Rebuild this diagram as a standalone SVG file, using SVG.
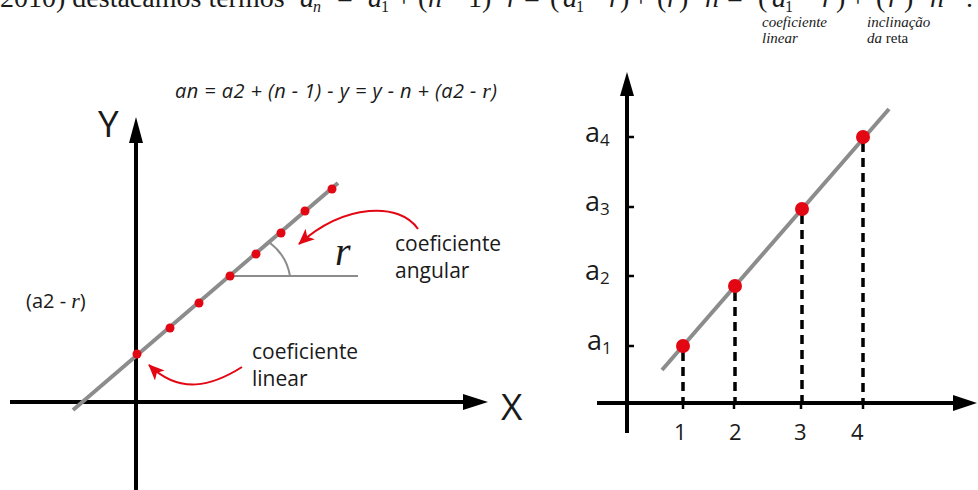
<svg xmlns="http://www.w3.org/2000/svg" width="978" height="490" viewBox="0 0 978 490">
<defs>
<style>
.sans{font-family:"Open Sans","Noto Sans",sans-serif;fill:#1a1a1a}
.serif{font-family:"Liberation Serif","DejaVu Serif",serif;fill:#1a1a1a}
.it{font-style:italic}
.axis{stroke:#000;stroke-width:4;fill:none}
.gline{stroke:#8c8c8c;stroke-width:4;fill:none}
.thin{stroke:#8c8c8c;stroke-width:2;fill:none}
.dot{fill:#e30613}
.red{stroke:#e30613;stroke-width:2;fill:none}
.dash{stroke:#000;stroke-width:3.5;stroke-dasharray:9 6;fill:none}
.tick{stroke:#000;stroke-width:2.5}
</style>
<marker id="rarrow" markerUnits="userSpaceOnUse" viewBox="0 0 16 14" markerWidth="16" markerHeight="14" refX="15" refY="7" orient="auto">
<path d="M0,0 L16,7 L0,14 L4,7 z" fill="#e30613"/>
</marker>
</defs>
<rect width="978" height="490" fill="#fff"/>

<g id="top-line">
<text class="serif" font-size="28" y="7"><tspan x="0">2010) destacamos termos</tspan><tspan x="300" class="it">a</tspan><tspan x="337">=</tspan><tspan x="368" class="it">a</tspan><tspan x="396">+</tspan><tspan x="418">(</tspan><tspan x="428" class="it">n</tspan><tspan x="446">−</tspan><tspan x="468">1</tspan><tspan x="482">)</tspan><tspan x="497">·</tspan><tspan x="507" class="it">r</tspan><tspan x="524">=</tspan><tspan x="550">(</tspan><tspan x="563" class="it">a</tspan><tspan x="590">−</tspan><tspan x="609" class="it">r</tspan><tspan x="620">)</tspan><tspan x="633">+</tspan><tspan x="657">(</tspan><tspan x="667" class="it">r</tspan><tspan x="679">)</tspan><tspan x="695">·</tspan><tspan x="705" class="it">n</tspan><tspan x="727">=</tspan><tspan x="758">(</tspan><tspan x="772" class="it">a</tspan><tspan x="800">−</tspan><tspan x="822" class="it">r</tspan><tspan x="836">)</tspan><tspan x="850">+</tspan><tspan x="876">(</tspan><tspan x="888" class="it">r</tspan><tspan x="904">)</tspan><tspan x="920">·</tspan><tspan x="930" class="it">n</tspan><tspan x="966">.</tspan></text>
<text class="serif" font-size="16" y="12"><tspan x="313" class="it">n</tspan><tspan x="381">1</tspan><tspan x="576">1</tspan><tspan x="785">1</tspan></text>
<text class="serif it" font-size="15"><tspan x="762" y="27">coeficiente</tspan><tspan x="762" y="43">linear</tspan></text>
<text class="serif" font-size="15"><tspan x="867" y="27" class="it">inclinação</tspan><tspan x="867" y="43" class="it">da</tspan><tspan> reta</tspan></text>
</g>

<g id="left-axes">
<line class="axis" x1="136" y1="140" x2="136" y2="490"/>
<polygon points="136,117 129,143 143,143" fill="#000"/>
<line class="axis" x1="10" y1="402" x2="466" y2="402"/>
<polygon points="488,402 463,394 463,410" fill="#000"/>
<text class="sans" font-size="37" x="98" y="137">Y</text>
<text class="sans" font-size="37" x="501" y="420">X</text>
</g>

<g id="left-formula">
<text class="sans it" font-size="20" x="175" y="98" textLength="322" lengthAdjust="spacing">an =  a2 + (n - 1) - y = y - n + (a2 - <tspan class="serif" font-size="22">r</tspan>)</text>
</g>

<g id="left-line">
<line class="gline" x1="73" y1="410" x2="338" y2="183"/>
<line class="thin" x1="230" y1="276" x2="358" y2="276"/>
<path class="thin" d="M270,243 A52,52 0 0 1 290,276"/>
<text class="serif it" font-size="40" x="335" y="265">r</text>
</g>

<g id="left-dots">
<circle class="dot" cx="137" cy="354" r="4.5"/>
<circle class="dot" cx="170" cy="328" r="4.5"/>
<circle class="dot" cx="199" cy="303" r="4.5"/>
<circle class="dot" cx="230" cy="276" r="4.5"/>
<circle class="dot" cx="256" cy="254" r="4.5"/>
<circle class="dot" cx="281" cy="233" r="4.5"/>
<circle class="dot" cx="305" cy="211" r="4.5"/>
<circle class="dot" cx="332" cy="189" r="4.5"/>
</g>

<g id="label-angular">
<text class="sans" font-size="21"><tspan x="395" y="251">coeficiente</tspan><tspan x="395" y="278">angular</tspan></text>
</g>
<g id="label-linear">
<text class="sans" font-size="21"><tspan x="252" y="359">coeficiente</tspan><tspan x="252" y="386">linear</tspan></text>
</g>
<g id="label-a2r">
<text class="sans" font-size="20" x="26" y="308">(a2 - <tspan class="serif it" font-size="22">r</tspan>)</text>
</g>

<g id="right-axes">
<line class="axis" x1="627" y1="92" x2="627" y2="433"/>
<polygon points="627,72 620,96 634,96" fill="#000"/>
<line class="axis" x1="597" y1="403" x2="956" y2="403"/>
<polygon points="977,403 953,395 953,411" fill="#000"/>
<line class="tick" x1="627" y1="137" x2="634" y2="137"/>
<line class="tick" x1="627" y1="207" x2="634" y2="207"/>
<line class="tick" x1="627" y1="276" x2="634" y2="276"/>
<line class="tick" x1="627" y1="346" x2="634" y2="346"/>
<line class="tick" x1="683" y1="403" x2="683" y2="409"/>
<line class="tick" x1="734" y1="403" x2="734" y2="409"/>
<line class="tick" x1="801" y1="403" x2="801" y2="409"/>
<line class="tick" x1="863" y1="403" x2="863" y2="409"/>
<text class="sans" font-size="22"><tspan x="674" y="440">1</tspan><tspan x="729" y="440">2</tspan><tspan x="794" y="440">3</tspan><tspan x="851" y="440">4</tspan></text>
<text class="sans" font-size="27"><tspan x="585" y="142">a</tspan><tspan font-size="17" dy="4">4</tspan></text>
<text class="sans" font-size="27"><tspan x="585" y="211">a</tspan><tspan font-size="17" dy="4">3</tspan></text>
<text class="sans" font-size="27"><tspan x="585" y="280">a</tspan><tspan font-size="17" dy="4">2</tspan></text>
<text class="sans" font-size="27"><tspan x="587" y="350">a</tspan><tspan font-size="17" dy="4">1</tspan></text>
</g>

<g id="right-line">
<line class="gline" x1="662" y1="370" x2="889" y2="109" stroke-width="3.5"/>
</g>

<g id="connectors">
<path class="red" d="M418,229 C400,202 345,203 299,244" marker-end="url(#rarrow)"/>
<path class="red" d="M242,367 C212,386 180,395 149,365" marker-end="url(#rarrow)"/>
<line class="dash" x1="683" y1="352" x2="683" y2="401"/>
<line class="dash" x1="735" y1="292" x2="735" y2="401"/>
<line class="dash" x1="802" y1="215" x2="802" y2="401"/>
<line class="dash" x1="863" y1="143" x2="863" y2="401"/>
</g>

<g id="right-dots">
<circle class="dot" cx="683" cy="346" r="7"/>
<circle class="dot" cx="735" cy="286" r="7"/>
<circle class="dot" cx="802" cy="209" r="7"/>
<circle class="dot" cx="863" cy="137" r="7"/>
</g>
</svg>
